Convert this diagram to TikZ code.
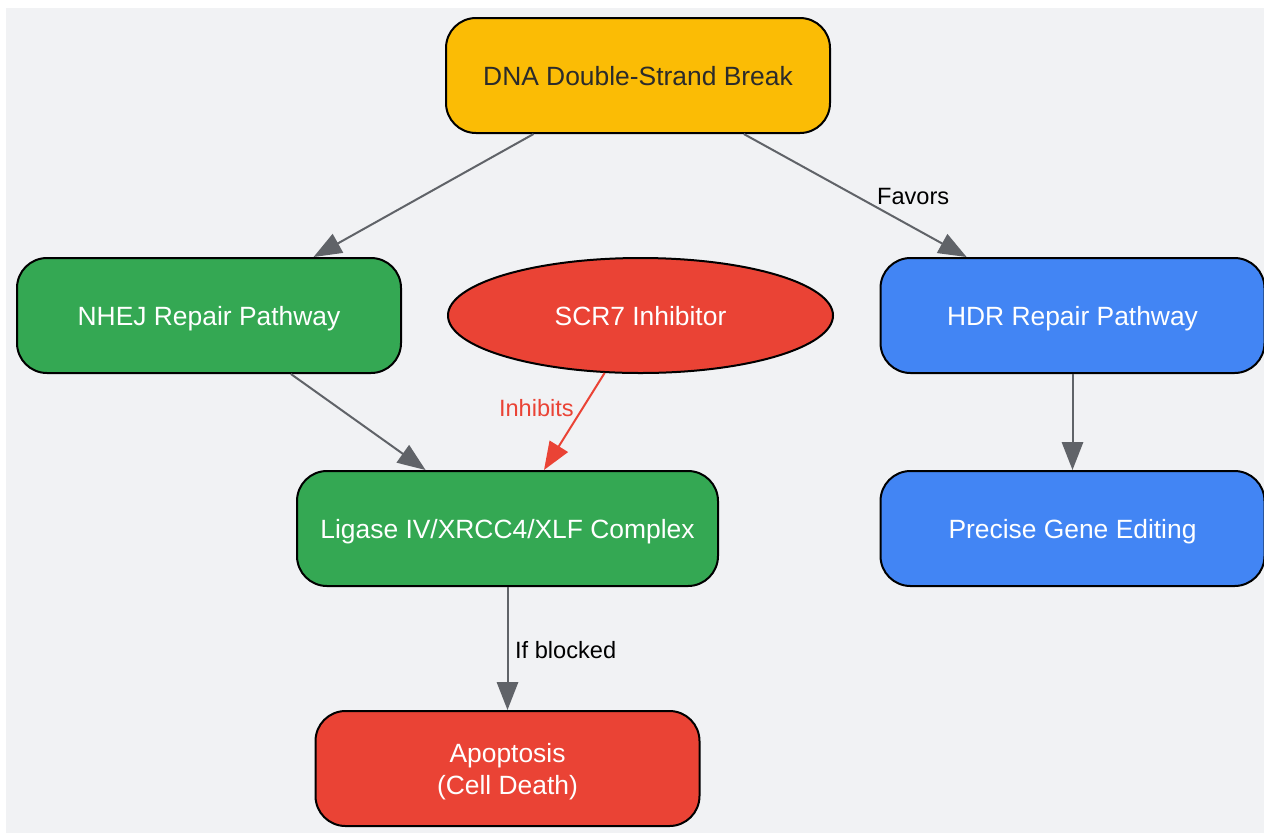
\documentclass[tikz,border=0pt]{standalone}
\usepackage{fontspec}
\setmainfont{Liberation Sans}
\usetikzlibrary{arrows.meta, shapes.geometric}
\definecolor{bggray}{HTML}{F1F2F4}
\definecolor{dsbyellow}{HTML}{FBBC05}
\definecolor{nhejgreen}{HTML}{34A853}
\definecolor{scrred}{HTML}{EA4335}
\definecolor{hdrblue}{HTML}{4285F4}
\definecolor{linkgray}{HTML}{606368}
\definecolor{darktext}{HTML}{2B2B2B}

\begin{document}
\begin{tikzpicture}[x=0.75pt, y=-0.75pt,
    box/.style={draw=black, line width=1.5pt, rounded corners=22.5pt,
        minimum width=288pt, minimum height=86.25pt, inner sep=0pt,
        text height=19.8pt, text depth=4.2pt,
        font=\fontsize{19.8}{24}\selectfont, text=white, align=center},
    link/.style={draw=linkgray, line width=1.5pt, -{Triangle[length=21pt, width=16pt]}},
    lbl/.style={font=\fontsize{17.7}{21}\selectfont, text=black, inner sep=2pt}]
        \useasboundingbox (0,0) rectangle (1264,833);
        \fill[bggray] (6,8) rectangle (1264,833);

        \node[box, fill=dsbyellow, text=darktext] (DSB) at (638,75.5) {DNA Double-Strand Break};
        \node[box, fill=nhejgreen] (NHEJ) at (209,315.5) {NHEJ Repair Pathway};
        \node[draw=black, line width=1.5pt, ellipse, fill=scrred, text=white,
            minimum width=288.75pt, minimum height=86.25pt, inner sep=0pt,
            text height=19.8pt, text depth=4.2pt,
            font=\fontsize{19.8}{24}\selectfont] (SCR) at (640.5,315.5) {SCR7 Inhibitor};
        \node[box, fill=hdrblue] (HDR) at (1072.5,315.5) {HDR Repair Pathway};
        \node[box, fill=nhejgreen, minimum width=315.75pt] (LIG) at (507.5,528.5) {Ligase IV/XRCC4/XLF Complex};
        \node[box, fill=hdrblue] (PGE) at (1072.5,528.5) {Precise Gene Editing};
        \node[box, fill=scrred, text height=, text depth=0pt] (APO) at (507.5,768.5) {Apoptosis\\(Cell Death)};

        \draw[link] (DSB) -- (NHEJ);
        \draw[link] (DSB) -- node[lbl, pos=0.51, anchor=west, xshift=12pt] {Favors} (HDR);
        \draw[link] (NHEJ) -- (LIG);
        \draw[link, draw=scrred] (SCR) -- node[lbl, text=scrred, pos=0.36, anchor=east, xshift=-4pt] {Inhibits} (LIG);
        \draw[link] (HDR) -- (PGE);
        \draw[link] (LIG) -- node[lbl, midway, anchor=west, xshift=3pt, yshift=-1pt] {If blocked} (APO);
\end{tikzpicture}
\end{document}
